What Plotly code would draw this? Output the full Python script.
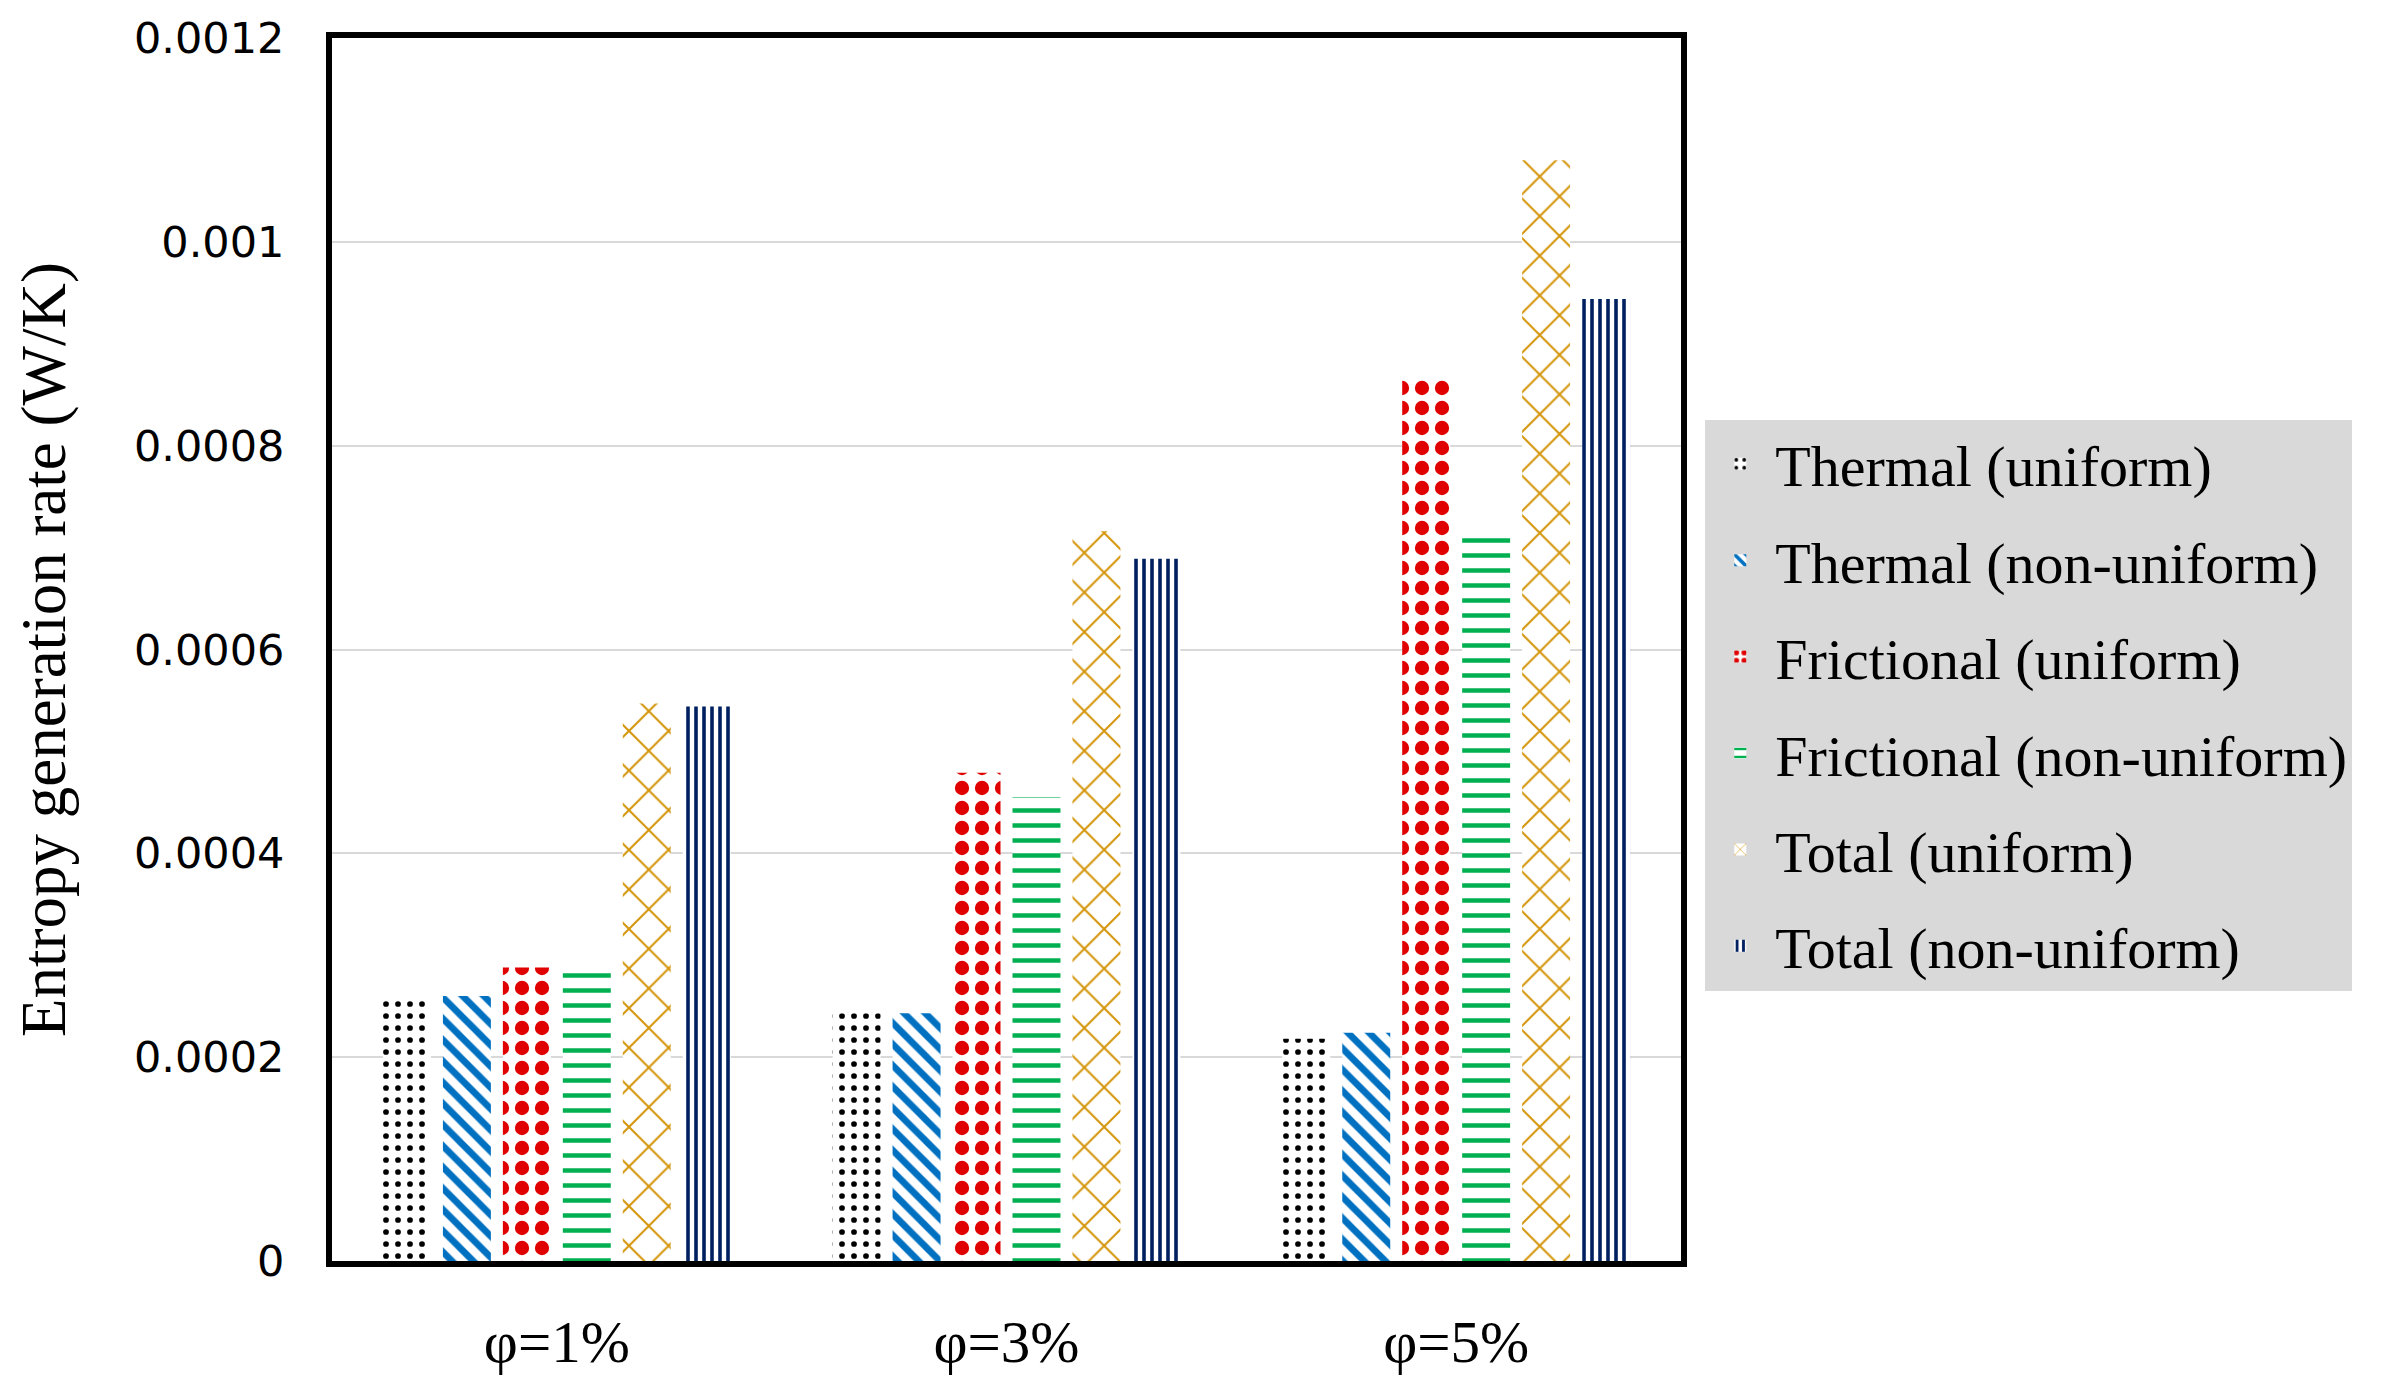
import plotly.graph_objects as go

categories = ["φ=1%", "φ=3%", "φ=5%"]
series_names = ["Thermal (uniform)", "Thermal (non-uniform)", "Frictional (uniform)",
                "Frictional (non-uniform)", "Total (uniform)", "Total (non-uniform)"]
thermal_uniform = [0.000260, 0.000243, 0.000218]
thermal_nonuniform = [0.000260, 0.000243, 0.000224]
frictional_uniform = [0.000288, 0.000479, 0.000866]
frictional_nonuniform = [0.000285, 0.000455, 0.000715]
total_uniform = [0.000547, 0.000716, 0.001080]
total_nonuniform = [0.000544, 0.000689, 0.000944]
y_tickvals = [0, 0.0002, 0.0004, 0.0006, 0.0008, 0.001, 0.0012]
y_ticktext = ["0", "0.0002", "0.0004", "0.0006", "0.0008", "0.001", "0.0012"]

series_values = [thermal_uniform, thermal_nonuniform, frictional_uniform,
                 frictional_nonuniform, total_uniform, total_nonuniform]
styles = [
    dict(shape=".", fg="#000000", size=12, sol=0.18),
    dict(shape="\\", fg="#0070C0", size=15, sol=0.45),
    dict(shape=".", fg="#E00000", size=20, sol=0.4),
    dict(shape="-", fg="#00B050", size=15, sol=0.3),
    dict(shape="x", fg="#D4950A", size=28, sol=0.14),
    dict(shape="|", fg="#002060", size=8, sol=0.45),
]

fig = go.Figure()
for i, (name, vals, st) in enumerate(zip(series_names, series_values, styles)):
    fig.add_trace(go.Bar(
        x=categories, y=vals, name=name, legendgroup="g%d" % i,
        marker=dict(color="white", line=dict(width=0),
                    pattern=dict(shape=st["shape"], fgcolor=st["fg"], bgcolor="white",
                                 size=st["size"], solidity=st["sol"],
                                 fillmode="overlay", fgopacity=1)),
    ))

serif = "Liberation Serif"
fig.update_layout(
    width=2390, height=1388,
    margin=dict(l=324, r=717, t=30, b=135),
    paper_bgcolor="white", plot_bgcolor="white",
    barmode="group", bargap=0.2, bargroupgap=0.2,
    font=dict(family=serif, color="black"),
    legend=dict(x=1.018, y=0.688, xanchor="left", yanchor="top",
                bgcolor="#D9D9D9", borderwidth=0, tracegroupgap=18,
                itemwidth=60,
                font=dict(family=serif, size=58, color="black"),
                traceorder="grouped"),
    showlegend=True,
)
fig.update_xaxes(showline=True, linecolor="black", linewidth=6, mirror=True,
                 automargin=False,
                 tickfont=dict(family=serif, size=59, color="black"),
                 ticklabelstandoff=24, showgrid=False)
fig.update_yaxes(range=[0, 0.0012], tickvals=y_tickvals, ticktext=y_ticktext,
                 automargin=False,
                 showline=True, linecolor="black", linewidth=6, mirror=True,
                 showgrid=True, gridcolor="#D9D9D9", gridwidth=2, zeroline=False,
                 tickfont=dict(family="DejaVu Sans", size=43, color="black"),
                 ticklabelstandoff=33,
                 title=dict(text="Entropy generation rate (W/K)",
                            font=dict(family=serif, size=63, color="black"), standoff=50))

fig.write_html("out.html")
